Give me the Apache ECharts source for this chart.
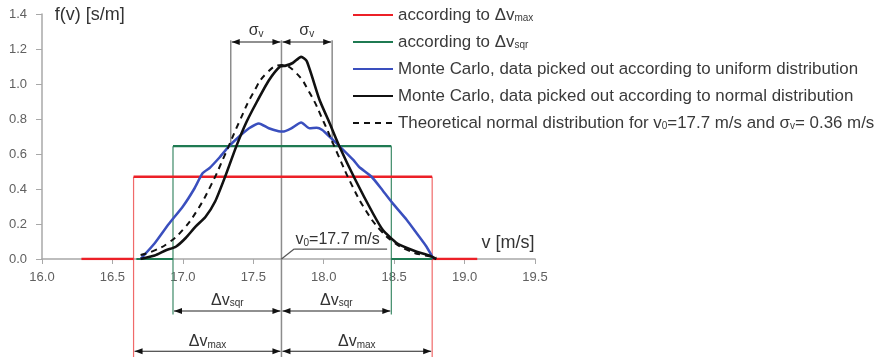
<!DOCTYPE html>
<html>
<head>
<meta charset="UTF-8">
<script src="https://cdn.jsdelivr.net/npm/echarts@6.0.0/dist/echarts.min.js"></script>
<style>
  html, body { margin: 0; background: #fff; }
  #chart { width: 874px; height: 357px; }
</style>
</head>
<body>
<div id="chart"></div>
<script>
// uniform densities: edges of the rectangles and their heights
const vMaxEdges = [16.28, 16.65, 18.77, 19.09];
const fMax = 0.47;
const vSqrEdges = [16.67, 16.93, 18.48, 18.77];
const fSqr = 0.645;

// Monte Carlo, uniform picking (blue)
const vUni = [16.70, 16.80, 16.90, 17.00, 17.08, 17.14, 17.19, 17.26, 17.33, 17.40, 17.47, 17.54, 17.61, 17.68, 17.71, 17.77, 17.84, 17.90, 17.95, 17.99, 18.04, 18.11, 18.21, 18.25, 18.34, 18.42, 18.49, 18.59, 18.66, 18.73, 18.78];
const fUni = [0, 0.09, 0.20, 0.30, 0.40, 0.49, 0.52, 0.58, 0.646, 0.70, 0.747, 0.775, 0.747, 0.73, 0.728, 0.747, 0.78, 0.747, 0.75, 0.737, 0.70, 0.646, 0.566, 0.527, 0.47, 0.39, 0.318, 0.223, 0.147, 0.07, 0];

// Monte Carlo, normal picking (black)
const vNormMC = [16.70, 16.80, 16.88, 16.95, 17.02, 17.09, 17.16, 17.23, 17.30, 17.38, 17.45, 17.52, 17.61, 17.69, 17.73, 17.78, 17.84, 17.88, 17.97, 18.04, 18.11, 18.22, 18.35, 18.42, 18.52, 18.60, 18.66, 18.75, 18.80];
const fNormMC = [0, 0.02, 0.05, 0.07, 0.12, 0.185, 0.24, 0.33, 0.47, 0.645, 0.78, 0.89, 1.02, 1.10, 1.105, 1.12, 1.155, 1.13, 0.91, 0.78, 0.646, 0.46, 0.26, 0.166, 0.09, 0.06, 0.042, 0.02, 0];

// theoretical normal distribution (dashed)
const vTheo = [16.7, 16.8, 16.9, 17.0, 17.1, 17.2, 17.3, 17.4, 17.5, 17.6, 17.7, 17.8, 17.9, 18.0, 18.1, 18.2, 18.3, 18.4, 18.5, 18.6, 18.7, 18.8];
const fTheo = [0.023, 0.049, 0.094, 0.167, 0.276, 0.422, 0.598, 0.783, 0.950, 1.066, 1.108, 1.066, 0.950, 0.783, 0.598, 0.422, 0.276, 0.167, 0.094, 0.049, 0.023, 0.01];

const v0 = 17.7;
const sigmaEdges = [17.34, 18.06];

const legendNames = {
  max: 'according to Δv{s|max}',
  sqr: 'according to Δv{s|sqr}',
  uni: 'Monte Carlo, data picked out according to uniform distribution',
  norm: 'Monte Carlo, data picked out according to normal distribution',
  theo: 'Theoretical normal distribution for v{s|0}=17.7 m/s and σ{s|v}= 0.36 m/s'
};

function pairs(xs, ys) {
  return xs.map((x, i) => [x, ys[i]]);
}
function rect(e, h) {
  return [[e[0], 0], [e[1], 0], [e[1], null], [e[1], h], [e[2], h], [e[2], null], [e[2], 0], [e[3], 0]];
}

const RED = '#ec2027', GREEN = '#1f7a52', BLUE = '#3a4fbe', BLACK = '#111111';
const FONT = '"Liberation Sans", Arial, sans-serif';

const chart = echarts.init(document.getElementById('chart'));
chart.setOption({
  animation: false,
  grid: { left: 42, right: 339, top: 14, bottom: 98 },
  legend: {
    orient: 'vertical', left: 352, top: 6, padding: 0,
    itemWidth: 40, itemHeight: 14, itemGap: 9,
    selectedMode: false,
    // hide the circle that line series put in the middle of the legend icon
    itemStyle: { color: 'rgba(0,0,0,0)', borderWidth: 0, opacity: 0 },
    data: ['max', 'sqr', 'uni', 'norm', 'theo'],
    formatter: n => legendNames[n],
    textStyle: {
      fontFamily: FONT, fontSize: 16.9, color: '#3a3a3a', lineHeight: 18,
      rich: { s: { fontFamily: FONT, fontSize: 10, color: '#3a3a3a', padding: [7, 0, 0, 0] } }
    }
  },
  xAxis: {
    type: 'value', min: 16, max: 19.5, interval: 0.5,
    axisLine: { lineStyle: { color: '#a8a8a8', width: 1.5 } },
    axisTick: { show: true, length: 5, lineStyle: { color: '#a8a8a8' } },
    splitLine: { show: false },
    axisLabel: { margin: 12, fontSize: 13, fontFamily: FONT, color: '#606060', formatter: v => v.toFixed(1) }
  },
  yAxis: {
    type: 'value', min: 0, max: 1.4, interval: 0.2,
    axisLine: { show: true, lineStyle: { color: '#a8a8a8', width: 1.5 } },
    axisTick: { show: true, length: 6, lineStyle: { color: '#a8a8a8' } },
    splitLine: { show: false },
    axisLabel: { margin: 15, fontSize: 13, fontFamily: FONT, color: '#606060', formatter: v => v.toFixed(1) }
  },
  series: [
    { name: 'max', type: 'line', data: rect(vMaxEdges, fMax), symbol: 'none',
      lineStyle: { color: RED, width: 2.5 }, itemStyle: { color: RED } },
    { name: 'sqr', type: 'line', data: rect(vSqrEdges, fSqr), symbol: 'none',
      lineStyle: { color: GREEN, width: 2.2 }, itemStyle: { color: GREEN } },
    { name: 'uni', type: 'line', data: pairs(vUni, fUni), symbol: 'none', smooth: 0.2,
      lineStyle: { color: BLUE, width: 2.5 }, itemStyle: { color: BLUE } },
    { name: 'norm', type: 'line', data: pairs(vNormMC, fNormMC), symbol: 'none', smooth: 0.2,
      lineStyle: { color: BLACK, width: 2.6 }, itemStyle: { color: BLACK } },
    { name: 'theo', type: 'line', data: pairs(vTheo, fTheo), symbol: 'none', smooth: true,
      lineStyle: { color: BLACK, width: 2, type: [6, 5] }, itemStyle: { color: BLACK } }
  ]
});

// annotations, placed in data units through the grid's scales
const P = (v, f) => chart.convertToPixel({ gridIndex: 0 }, [v, f]);
const g = [];
function seg(a, b, color, w) {
  g.push({ type: 'line', silent: true, z: 1,
    shape: { x1: a[0], y1: a[1], x2: b[0], y2: b[1] },
    style: { stroke: color, lineWidth: w } });
}
function head(x, y, dir) {
  g.push({ type: 'polygon', silent: true, z: 5,
    shape: { points: [[x, y], [x - dir * 8, y - 3], [x - dir * 8, y + 3]] },
    style: { fill: '#111' } });
}
function arrow(v1, v2, f) {
  const a = P(v1, f), b = P(v2, f);
  seg([a[0] + 1, a[1]], [b[0] - 1, b[1]], '#222', 1.2);
  head(a[0] + 1, a[1], -1);
  head(b[0] - 1, b[1], 1);
}
function label(v, f, text, align) {
  const p = P(v, f);
  g.push({ type: 'text', silent: true, z: 6, x: p[0], y: p[1],
    style: { text: text, fill: '#333', align: align || 'center', verticalAlign: 'middle',
      fontFamily: FONT, fontSize: 16,
      rich: { s: { fontFamily: FONT, fontSize: 10, fill: '#333', padding: [7, 0, 0, 0] } } } });
}

const fTop = 1.24, fSqrArrow = -0.297, fMaxArrow = -0.527, fBottom = -0.58;
// rectangle sides running below the axis
seg(P(vMaxEdges[1], fMax), P(vMaxEdges[1], fBottom), '#f06a6a', 1.2);
seg(P(vMaxEdges[2], fMax), P(vMaxEdges[2], fBottom), '#f06a6a', 1.2);
seg(P(vSqrEdges[1], fSqr), P(vSqrEdges[1], fSqrArrow - 0.02), '#3d8a68', 1.2);
seg(P(vSqrEdges[2], fSqr), P(vSqrEdges[2], fSqrArrow - 0.02), '#3d8a68', 1.2);
// centre and sigma lines
seg(P(v0, fTop + 0.01), P(v0, fBottom), '#8c8c8c', 1.5);
seg(P(sigmaEdges[0], fTop + 0.01), P(sigmaEdges[0], 0.66), '#8c8c8c', 1.5);
seg(P(sigmaEdges[1], fTop + 0.01), P(sigmaEdges[1], 0.66), '#8c8c8c', 1.5);

arrow(sigmaEdges[0], v0, fTop);
arrow(v0, sigmaEdges[1], fTop);
arrow(vSqrEdges[1], v0, fSqrArrow);
arrow(v0, vSqrEdges[2], fSqrArrow);
arrow(vMaxEdges[1], v0, fMaxArrow);
arrow(v0, vMaxEdges[2], fMaxArrow);

label((sigmaEdges[0] + v0) / 2, 1.305, 'σ{s|v}');
label((sigmaEdges[1] + v0) / 2, 1.305, 'σ{s|v}');
label((vSqrEdges[1] + v0) / 2, -0.235, 'Δv{s|sqr}');
label((vSqrEdges[2] + v0) / 2, -0.235, 'Δv{s|sqr}');
label((vMaxEdges[1] + v0) / 2, -0.47, 'Δv{s|max}');
label((vMaxEdges[2] + v0) / 2, -0.47, 'Δv{s|max}');

// v0 leader
const o = P(v0, 0);
const bend = P(17.79, 0.057), tail = P(18.45, 0.057);
seg(o, bend, '#555', 1.2);
seg(bend, tail, '#555', 1.2);
label(17.8, 0.11, 'v{s|0}=17.7 m/s', 'left');

// axis titles
const yt = P(16.09, 1.395), xt = P(19.12, 0.09);
g.push({ type: 'text', silent: true, x: yt[0], y: yt[1],
  style: { text: 'f(v) [s/m]', fill: '#333', fontFamily: FONT, fontSize: 18, align: 'left', verticalAlign: 'middle' } });
g.push({ type: 'text', silent: true, x: xt[0], y: xt[1],
  style: { text: 'v [m/s]', fill: '#333', fontFamily: FONT, fontSize: 18, align: 'left', verticalAlign: 'middle' } });

chart.setOption({ graphic: g });
</script>
</body>
</html>
